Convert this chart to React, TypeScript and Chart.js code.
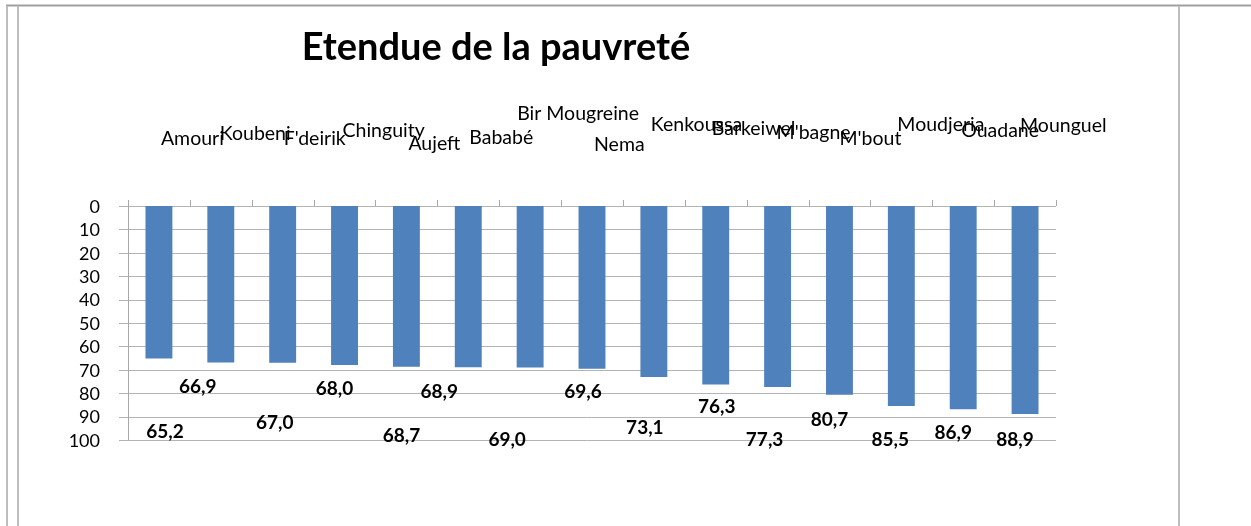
import React, { useEffect, useRef } from "react";
import { Chart, registerables } from "chart.js";

Chart.register(...registerables);

const categories = [
  "Amouri", "Koubeni", "F'deirik", "Chinguity", "Aujeft", "Bababé", "Bir Mougreine",
  "Nema", "Kenkoussa", "Barkeiwel", "M'bagne", "M'bout", "Moudjeria", "Ouadane", "Mounguel",
];
const values = [65.2, 66.9, 67.0, 68.0, 68.7, 68.9, 69.0, 69.6, 73.1, 76.3, 77.3, 80.7, 85.5, 86.9, 88.9];
const valueLabels = ["65,2", "66,9", "67,0", "68,0", "68,7", "68,9", "69,0", "69,6", "73,1", "76,3", "77,3", "80,7", "85,5", "86,9", "88,9"];
const yTicks = [0, 10, 20, 30, 40, 50, 60, 70, 80, 90, 100];
const title = "Etendue de la pauvreté";

// layout of the (misplaced) labels, as in the reference
const catLabelDx = [2, -1, 1, -2, 2, 1, -13, 2, -3, -4, -1, 0, -4, -2, -5];
const catLabelBaseline = [-61, -66, -61, -69, -56, -62, -86, -55, -75, -71, -67, -61, -75, -69, -74];
const valLabelDx = [6, -23, -8, -10, -5, -29, -23, -9, -9, 1, -13, -10, -11, -10, -10];
const valLabelAt = [96.6, 77.4, 92.7, 78.2, 98.3, 79.5, 100, 79.5, 94.9, 85.9, 100, 91.5, 100, 97.0, 100];

const W = 1251;
const H = 526;
const FONT = "Lato, 'Open Sans', sans-serif";

const decor = {
  id: "decor",
  beforeDatasetsDraw(chart: any) {
    const { ctx, chartArea: a, scales } = chart;
    const y = scales.y;
    const x = scales.x;
    ctx.save();
    ctx.lineWidth = 1;
    ctx.strokeStyle = "#b4b4b4";
    yTicks.forEach((t) => {
      const py = Math.round(y.getPixelForValue(t)) + 0.5;
      ctx.beginPath();
      ctx.moveTo(a.left - 9, py);
      ctx.lineTo(a.right, py);
      ctx.stroke();
    });
    ctx.strokeStyle = "#a8a8a8";
    const top = Math.round(y.getPixelForValue(0));
    const bottom = Math.round(y.getPixelForValue(100));
    ctx.beginPath();
    ctx.moveTo(Math.round(a.left) + 0.5, top - 6);
    ctx.lineTo(Math.round(a.left) + 0.5, bottom);
    ctx.stroke();
    const step = x.getPixelForValue(1) - x.getPixelForValue(0);
    for (let i = 0; i <= categories.length; i++) {
      const px = Math.round(x.getPixelForValue(i) - step / 2) + 0.5;
      ctx.beginPath();
      ctx.moveTo(px, top - 6);
      ctx.lineTo(px, top);
      ctx.stroke();
    }
    ctx.restore();
  },
  afterDatasetsDraw(chart: any) {
    const { ctx, chartArea: a, scales } = chart;
    const y = scales.y;
    const x = scales.x;
    ctx.save();
    ctx.fillStyle = "#000";
    // y labels
    ctx.font = `18px ${FONT}`;
    ctx.textAlign = "right";
    ctx.textBaseline = "middle";
    yTicks.forEach((t) => {
      ctx.fillText(String(t), a.left - 28, y.getPixelForValue(t) + 1);
    });
    // category labels
    const top = y.getPixelForValue(0);
    ctx.font = `19.5px ${FONT}`;
    ctx.textAlign = "left";
    ctx.textBaseline = "alphabetic";
    categories.forEach((c, i) => {
      ctx.fillText(c, x.getPixelForValue(i) + catLabelDx[i], top + catLabelBaseline[i]);
    });
    // value labels
    ctx.font = `bold 19px ${FONT}`;
    ctx.textAlign = "center";
    ctx.textBaseline = "middle";
    valueLabels.forEach((v, i) => {
      ctx.fillText(v, x.getPixelForValue(i) + valLabelDx[i], y.getPixelForValue(valLabelAt[i]));
    });
    // title
    ctx.font = `bold 38px ${FONT}`;
    ctx.textAlign = "center";
    ctx.textBaseline = "alphabetic";
    ctx.fillText(title, 496, 60);
    // frame
    ctx.strokeStyle = "#a0a0a0";
    ctx.lineWidth = 2;
    ctx.beginPath();
    ctx.moveTo(6, 5.5);
    ctx.lineTo(W, 5.5);
    ctx.stroke();
    ctx.strokeStyle = "#bdbdbd";
    [7, 18, 1179].forEach((lx) => {
      ctx.beginPath();
      ctx.moveTo(lx, 6);
      ctx.lineTo(lx, H);
      ctx.stroke();
    });
    ctx.restore();
  },
};

export default function App() {
  const ref = useRef<HTMLCanvasElement>(null);
  useEffect(() => {
    document.body.style.margin = "0";
    const chart = new Chart(ref.current as HTMLCanvasElement, {
      type: "bar",
      data: {
        labels: categories,
        datasets: [
          {
            data: values,
            backgroundColor: "#4F81BD",
            barPercentage: 0.435,
            categoryPercentage: 1,
          },
        ],
      },
      options: {
        responsive: false,
        animation: false,
        layout: { padding: { left: 128, top: 206, right: W - 1056, bottom: H - 440 } },
        scales: {
          x: { display: false },
          y: { display: false, min: 0, max: 100, reverse: true },
        },
        plugins: { legend: { display: false }, tooltip: { enabled: false }, title: { display: false } },
      },
      plugins: [decor],
    });
    return () => chart.destroy();
  }, []);
  return (
    <div style={{ width: W, height: H, background: "#fff" }}>
      <canvas ref={ref} width={W} height={H} style={{ display: "block" }} />
    </div>
  );
}
